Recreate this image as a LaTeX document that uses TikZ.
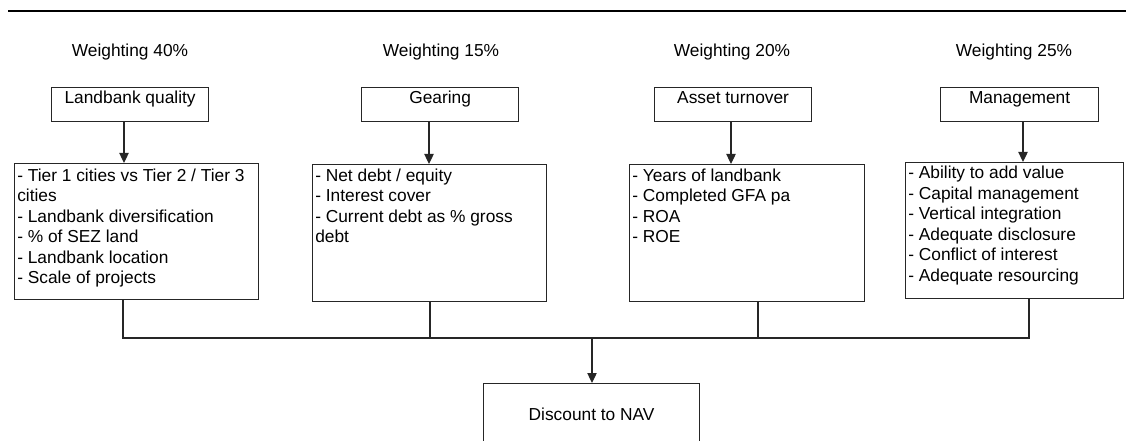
\documentclass[tikz,border=0pt]{standalone}
\usepackage{fontspec}
\setmainfont{Liberation Sans}
\usetikzlibrary{arrows.meta,calc}
\begin{document}
\begin{tikzpicture}[x=0.75pt,y=-0.75pt,
  every node/.style={font=\fontsize{13}{15.4}\selectfont},
  hbox/.style={draw=black!85,line width=0.9pt,rectangle,anchor=north west,inner sep=0pt,
    minimum height=25.5pt,text height=12pt,text depth=13.5pt},
  lbox/.style={draw=black!85,line width=0.9pt,rectangle,anchor=north west,inner sep=0pt},
  ltext/.style={anchor=north west,align=left,inner sep=0pt},
  wlabel/.style={anchor=base,inner sep=0pt},
  conn/.style={draw=black!85,line width=0.9pt},
  arr/.style={conn,-{Triangle[length=7.5pt,width=7pt]}}]
\useasboundingbox (0,0) rectangle (1126,441);
\clip (0,0) rectangle (1126,441);

% top rule
\coordinate (r1) at (8,11);
\coordinate (r2) at (1126,11);
\draw[line width=1.6pt] (r1) -- (r2);

% weighting labels
\node[wlabel] (w1) at (130,57) {Weighting 40\%};
\node[wlabel] (w2) at (441,57) {Weighting 15\%};
\node[wlabel] (w3) at (732,57) {Weighting 20\%};
\node[wlabel] (w4) at (1014,57) {Weighting 25\%};

% header boxes
\node[hbox,minimum width=117.75pt] (lbq) at (51,87) {Landbank quality};
\node[hbox,minimum width=117.75pt] (gea) at (361,87) {Gearing};
\node[hbox,minimum width=117.75pt] (ast) at (654,87) {Asset turnover};
\node[hbox,minimum width=118.5pt] (mgt) at (940,87) {Management};

% list boxes
\node[lbox,minimum width=183pt,minimum height=102pt] (lbl) at (14,163) {};
\node[lbox,minimum width=175.5pt,minimum height=102.75pt] (gel) at (312,164) {};
\node[lbox,minimum width=176.25pt,minimum height=102.75pt] (asl) at (629,164) {};
\node[lbox,minimum width=163.5pt,minimum height=102pt] (mgl) at (905,162) {};

\node[ltext] (lbt) at ([shift={(2.25pt,-4pt)}]lbl.north west)
  {- Tier 1 cities vs Tier 2 / Tier 3\\cities\\- Landbank diversification\\- \% of SEZ land\\- Landbank location\\- Scale of projects};
\node[ltext] (get) at ([shift={(2.25pt,-3.4pt)}]gel.north west)
  {- Net debt / equity\\- Interest cover\\- Current debt as \% gross\\debt};
\node[ltext] (ast2) at ([shift={(2.25pt,-3.4pt)}]asl.north west)
  {- Years of landbank\\- Completed GFA pa\\- ROA\\- ROE};
\node[ltext] (mgt2) at ([shift={(2.25pt,-2.8pt)}]mgl.north west)
  {- Ability to add value\\- Capital management\\- Vertical integration\\- Adequate disclosure\\- Conflict of interest\\- Adequate resourcing};

% discount box
\node[lbox,minimum width=162pt,minimum height=46.5pt] (dis) at (483,383) {Discount to NAV};

% down arrows
\coordinate (a1) at (124,0);
\coordinate (a2) at (429,0);
\coordinate (a3) at (731,0);
\coordinate (a4) at (1023,0);
\draw[arr] (lbq.south -| a1) -- (lbl.north -| a1);
\draw[arr] (gea.south -| a2) -- (gel.north -| a2);
\draw[arr] (ast.south -| a3) -- (asl.north -| a3);
\draw[arr] (mgt.south -| a4) -- (mgl.north -| a4);

% collecting lines
\coordinate (j1) at (123,338);
\coordinate (j2) at (430,338);
\coordinate (j3) at (758,338);
\coordinate (j4) at (1029,338);
\coordinate (jm) at (592,338);
\draw[conn] (lbl.south -| j1) -- (j1) -- (j4) -- (mgl.south -| j4);
\draw[conn] (gel.south -| j2) -- (j2);
\draw[conn] (asl.south -| j3) -- (j3);
\draw[arr] (jm) -- (dis.north -| jm);
\end{tikzpicture}
\end{document}
